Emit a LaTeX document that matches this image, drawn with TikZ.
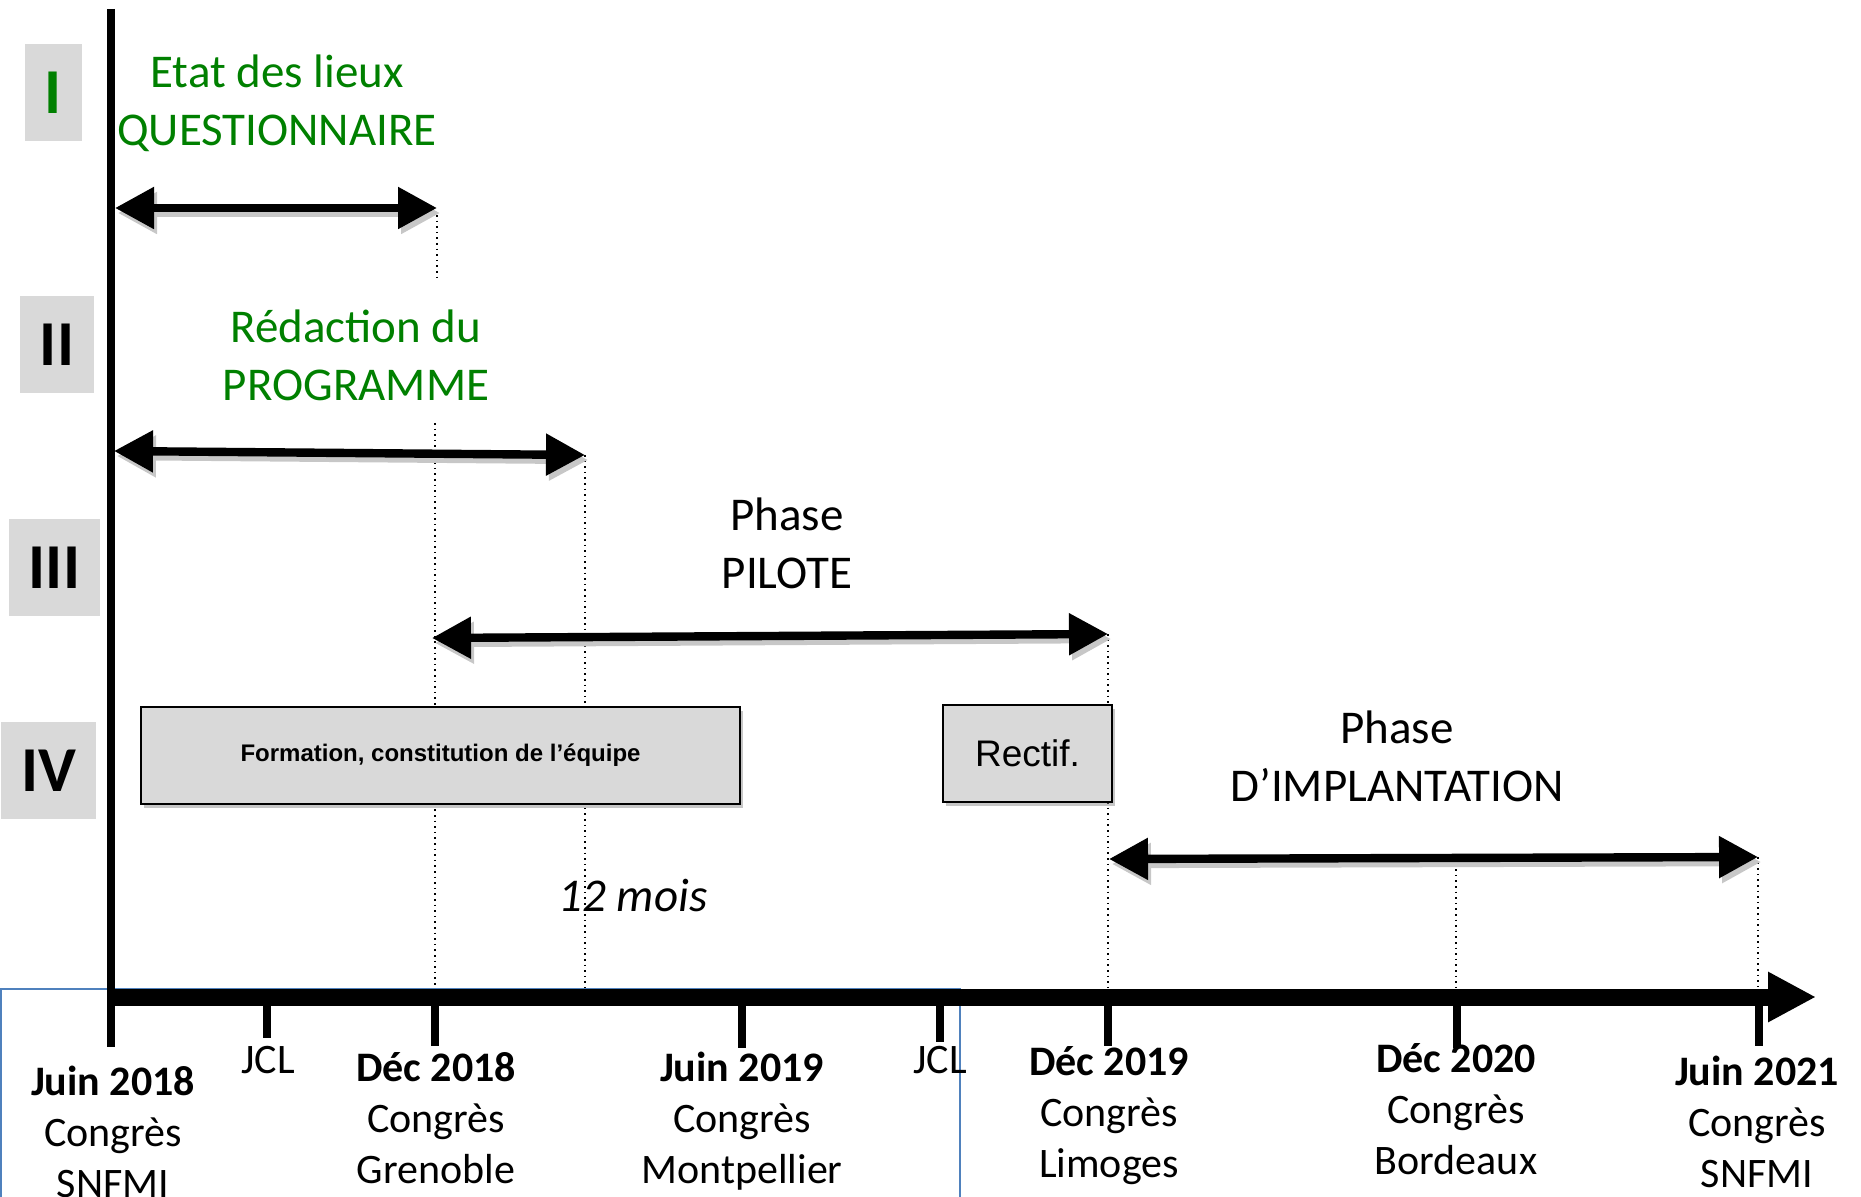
\documentclass[tikz,border=0pt]{standalone}
\usepackage{fontspec}
\setmainfont{Carlito}
\newfontfamily\arialfont{Liberation Sans}
\usepackage{tikz}
\usetikzlibrary{
	positioning,
	arrows.meta,
	shadows
}

\definecolor{phasegreen}{RGB}{0,128,0}
\definecolor{boxgray}{RGB}{217,217,217}
\definecolor{frameblue}{RGB}{79,129,189}

\tikzset{
	numbox/.style={fill=boxgray, inner sep=0pt, minimum height=48.5pt, font=\fontsize{32}{38}\selectfont\bfseries},
	title/.style={align=center, anchor=base, font=\fontsize{23.5}{29}\selectfont},
	datelabel/.style={align=center, anchor=base, font=\fontsize{21}{25.5}\selectfont},
	tick/.style={line width=4pt},
	guide/.style={line width=0.8pt, dotted},
	phasetips/.style={{Triangle[length=19.5pt,width=20pt]}-{Triangle[length=19.5pt,width=20pt]}},
	phase/.style={line width=4.2pt, phasetips,
		preaction={draw=black!22, line width=4.2pt, phasetips, transform canvas={shift={(1.5pt,-2.5pt)}}}},
	task/.style={draw, line width=1pt, fill=boxgray, inner sep=0pt, minimum height=48.5pt,
		drop shadow={shadow xshift=1.5pt, shadow yshift=-2pt, opacity=0.45}}
}

\begin{document}
\begin{tikzpicture}[x=0.5pt,y=-0.5pt]
	\useasboundingbox (0,0) rectangle (1861,1197);

	\coordinate (axistop) at (0,988);
	\coordinate (a1s) at (115,208);  \coordinate (a1e) at (437,208);
	\coordinate (a2s) at (114,451);  \coordinate (a2e) at (585,455);
	\coordinate (a3s) at (432,638);  \coordinate (a3e) at (1108,634);
	\coordinate (a4s) at (1109,859); \coordinate (a4e) at (1758,857);
	\coordinate (dec18) at (435,423);
	\coordinate (dec20) at (1456,858);

	% dotted guides
	\draw[guide] (437,215) -- (437,282);
	\draw[guide] (dec18) -- (dec18 |- axistop);
	\draw[guide] (a2e) -- (a2e |- axistop);
	\draw[guide] (a3e) -- (a3e |- axistop);
	\draw[guide] (dec20) -- (dec20 |- axistop);
	\draw[guide] (a4e) -- (a4e |- axistop);

	\draw[frameblue, line width=0.75pt] (1,1197) -- (1,989) -- (960,989) -- (960,1197);

	\node[numbox, minimum width=28.5pt, text=phasegreen] (n1) at (53.5,92.5) {I};
	\node[numbox, minimum width=37pt]   (n2) at (57,344.5)  {II};
	\node[numbox, minimum width=45.5pt] (n3) at (54.5,567.5) {III};
	\node[numbox, minimum width=47.5pt] (n4) at (48.5,770.5) {IV};

	\node[title, text=phasegreen] (etat)   at (277,146) {Etat des lieux\\QUESTIONNAIRE};
	\node[title, text=phasegreen] (redac)  at (356,401) {Rédaction du\\PROGRAMME};
	\node[title] (pilote)  at (787,588)  {Phase\\PILOTE};
	\node[title] (implant) at (1397,801) {Phase\\D’IMPLANTATION};
	\node[title, font=\fontsize{23.5}{29}\selectfont\itshape] (mois) at (633,911) {12 mois};

	\node[task, minimum width=299.5pt, font=\arialfont\fontsize{12}{14}\selectfont\bfseries]
		(formation) at (440.5,755.5) {Formation, constitution de l’équipe};
	\node[task, minimum width=84.5pt, font=\arialfont\fontsize{18.5}{22}\selectfont]
		(rectif) at (1027.5,753.5) {Rectif.};

	\draw[phase] (a1s) -- (a1e);
	\draw[phase] (a2s) -- (a2e);
	\draw[phase] (a3s) -- (a3e);
	\draw[phase] (a4s) -- (a4e);

	% axes
	\coordinate (origin) at (107,997);
	\coordinate (axisend) at (1816,997);
	\draw[line width=4pt] (111,9) -- (111,1047);
	\draw[line width=8.5pt, -{Triangle[length=24pt,width=23.5pt]}] (origin) -- (axisend);

	\foreach \x/\len in {267/1038, 435/1046, 742/1048, 940/1042, 1108/1046, 1457/1048, 1759/1046}
		\draw[tick] (\x,997) -- (\x,\len);

	\node[datelabel] (juin18) at (113,1197)  {\textbf{Juin 2018}\\Congrès\\SNFMI};
	\node[datelabel] (jcl1)   at (268,1073)  {JCL};
	\node[datelabel] (dec18l) at (436,1183)  {\textbf{Déc 2018}\\Congrès\\Grenoble};
	\node[datelabel] (juin19) at (742,1183)  {\textbf{Juin 2019}\\Congrès\\Montpellier};
	\node[datelabel] (jcl2)   at (940,1073)  {JCL};
	\node[datelabel] (dec19)  at (1109,1177) {\textbf{Déc 2019}\\Congrès\\Limoges};
	\node[datelabel] (dec20l) at (1456,1174) {\textbf{Déc 2020}\\Congrès\\Bordeaux};
	\node[datelabel] (juin21) at (1757,1187) {\textbf{Juin 2021}\\Congrès\\SNFMI};
\end{tikzpicture}
\end{document}
